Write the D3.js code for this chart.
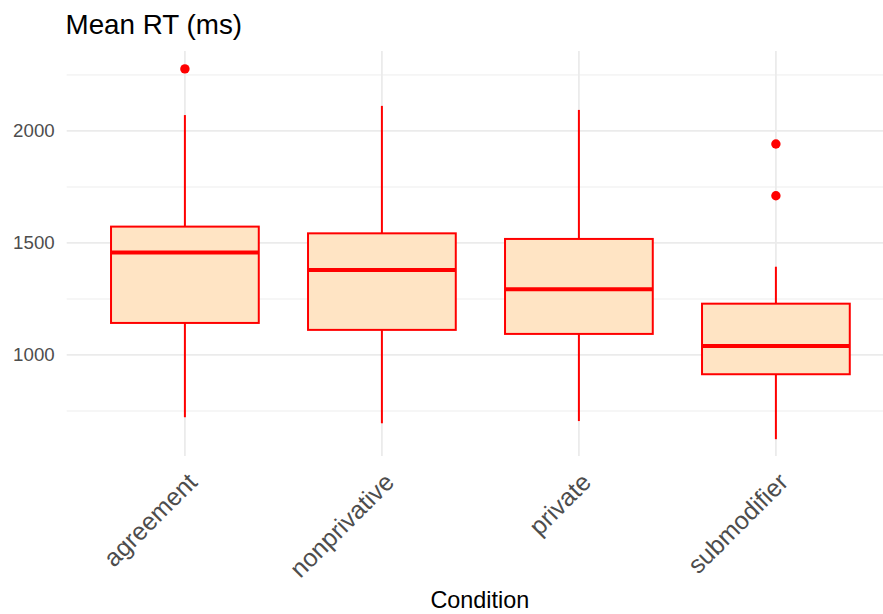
<!DOCTYPE html>
<html><head><meta charset="utf-8">
<script src="https://cdn.jsdelivr.net/npm/d3@7/dist/d3.min.js"></script>
<style>body{margin:0;background:#fff}svg{display:block}text{font-family:"Liberation Sans",Arial,sans-serif}</style>
</head><body><svg id="c" width="883" height="614"></svg>
<script>
const categories = ["agreement","nonprivative","private","submodifier"];
const whiskerLow  = [722, 695, 705, 624];
const q1          = [1143, 1112, 1094, 914];
const median      = [1458, 1379, 1293, 1040];
const q3          = [1573, 1543, 1518, 1229];
const whiskerHigh = [2071, 2112, 2094, 1394];
const outliers    = [[2277], [], [], [1942, 1711]];
const majorTicks  = [1000, 1500, 2000];
const minorTicks  = [750, 1250, 1750, 2250];

(function () {
const svg = d3.select("#c");
const W = 883, H = 614;
const pLeft = 66.7, pTop = 51, pBottom = 456;
const y = d3.scaleLinear().domain([549, 2357]).range([pBottom, pTop]);
// discrete axis with ggplot's 0.6 expansion
const xPos = d3.scaleLinear().domain([0.4, 4.6]).range([pLeft, pLeft + 4.2*197]);
const x = c => xPos(categories.indexOf(c) + 1);
const boxW = 0.75 * (xPos(2) - xPos(1));

const grid = svg.append("g");
minorTicks.forEach(t => grid.append("line").attr("x1", pLeft).attr("x2", W)
  .attr("y1", y(t)).attr("y2", y(t)).attr("stroke", "#ebebeb").attr("stroke-width", 0.9));
majorTicks.forEach(t => grid.append("line").attr("x1", pLeft).attr("x2", W)
  .attr("y1", y(t)).attr("y2", y(t)).attr("stroke", "#ebebeb").attr("stroke-width", 1.8));
categories.forEach(c => grid.append("line").attr("x1", x(c)).attr("x2", x(c))
  .attr("y1", pTop).attr("y2", pBottom).attr("stroke", "#ebebeb").attr("stroke-width", 1.8));

const g = svg.append("g");
categories.forEach((c, i) => {
  const cx = x(c);
  g.append("line").attr("x1", cx).attr("x2", cx).attr("y1", y(q3[i])).attr("y2", y(whiskerHigh[i]))
    .attr("stroke", "red").attr("stroke-width", 2);
  g.append("line").attr("x1", cx).attr("x2", cx).attr("y1", y(q1[i])).attr("y2", y(whiskerLow[i]))
    .attr("stroke", "red").attr("stroke-width", 2);
  g.append("rect").attr("x", cx - boxW/2).attr("width", boxW)
    .attr("y", y(q3[i])).attr("height", y(q1[i]) - y(q3[i]))
    .attr("fill", "#ffe4c4").attr("stroke", "red").attr("stroke-width", 2);
  g.append("line").attr("x1", cx - boxW/2).attr("x2", cx + boxW/2)
    .attr("y1", y(median[i])).attr("y2", y(median[i])).attr("stroke", "red").attr("stroke-width", 4);
  outliers[i].forEach(v => g.append("circle").attr("cx", cx).attr("cy", y(v)).attr("r", 4.7).attr("fill", "red"));
});

const yAxis = d3.axisLeft(y).tickValues(majorTicks).tickSize(0).tickPadding(12).tickFormat(d3.format("d"));
const ya = svg.append("g").attr("transform", `translate(${pLeft},0)`).call(yAxis);
ya.select(".domain").remove();
ya.selectAll("text").attr("font-size", 18.7).attr("fill", "#4d4d4d").attr("font-family", '"Liberation Sans",Arial,sans-serif');

categories.forEach(c => {
  svg.append("text").attr("transform", `translate(${x(c)+1},${pBottom+15}) rotate(-45)`)
    .attr("text-anchor", "end").attr("dy", "0.72em").attr("font-size", 25).attr("fill", "#4d4d4d").text(c);
});

svg.append("text").attr("x", (pLeft + W + 10)/2).attr("y", 607.5).attr("text-anchor", "middle")
  .attr("font-size", 23.4).attr("fill", "#000").text("Condition");
svg.append("text").attr("x", 65.5).attr("y", 33.5).attr("font-size", 27.8).attr("fill", "#000").text("Mean RT (ms)");
})();
</script></body></html>
